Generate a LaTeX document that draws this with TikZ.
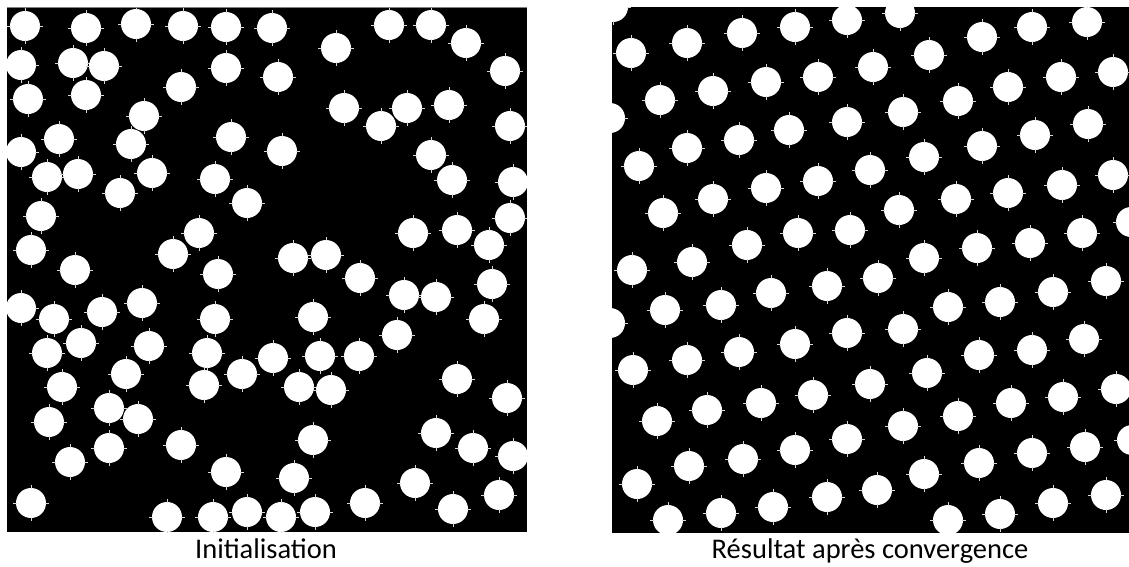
\documentclass[tikz,border=0pt]{standalone}
\usepackage{fontspec}
\setmainfont{Carlito}
\begin{document}
\begin{tikzpicture}[x=1pt,y=-1pt,
  panel/.style={fill=black},
  tickline/.style={draw=white!85!black, line width=0.9pt},
  caption/.style={font=\fontsize{28.5}{32}\selectfont, anchor=base, inner sep=0pt}]
\useasboundingbox (0,0) rectangle (1129,566);
\newcommand{\mydisk}[2]{%
  \fill[white] (#1,#2) circle[radius=15pt];
  \draw[tickline] (#1,#2) ++(0,-14) -- ++(0,-4);
  \draw[tickline] (#1,#2) ++(0,14) -- ++(0,4);
  \draw[tickline] (#1,#2) ++(-14,0) -- ++(-4,0);
  \draw[tickline] (#1,#2) ++(14,0) -- ++(4,0);}
% left panel
\fill[panel] (7,8) rectangle (527,532);
\draw[gray, line width=1pt] (7,7.5) -- (527,7.5);
\begin{scope}
\clip (7,8) rectangle (527,532);
\foreach \px/\py in {25/26,86/28,136/24,183/26,226/27,272/28,336/48,389/25,431/25,466/43,505/71,278/77,344/108,407/108,449/105,381/126,510/126,282/151,431/155,452/180,513/182,510/218,413/233,457/230,489/245,293/258,326/255,360/278,
21/65,73/63,104/66,226/68,181/87,86/95,28/99,144/116,59/139,131/144,231/137,21/152,47/177,78/174,152/173,215/179,120/193,247/203,41/216,199/233,31/250,173/254,75/270,218/274,
21/308,54/319,102/312,142/303,215/319,47/353,81/343,149/346,207/353,273/358,126/374,204/385,242/374,62/387,109/408,138/419,49/422,109/448,181/445,70/462,226/472,31/503,167/517,213/517,247/512,281/517,
492/284,404/295,436/297,484/319,313/317,397/335,320/356,359/356,299/387,331/390,457/379,507/398,313/440,436/433,473/448,513/456,294/478,415/483,499/495,365/503,315/512,453/509}
  {\mydisk{\px}{\py}}
\end{scope}
% right panel
\fill[panel] (612,7) rectangle (1129,533);
\begin{scope}
\clip (612,7) rectangle (1129,533);
\foreach \px/\py in {613/7,631/53,687/43,742/33,795/27,847/20,660/100,713/91,766/82,818/77,610/118,687/148,739/140,789/130,847/122,639/166,713/199,766/188,818/181,663/213,747/245,798/233,850/230,692/262,632/270,
900/13,982/37,1032/27,1087/22,929/55,873/67,1061/77,1113/72,1008/87,958/101,903/112,1088/124,1035/135,982/146,924/157,870/170,1113/175,1062/185,1008/193,956/199,899/210,1131/222,1082/233,1030/243,977/248,924/258,
771/293,827/286,878/278,665/310,721/305,610/323,795/344,847/333,739/352,687/360,633/370,813/395,761/403,707/410,657/421,847/439,795/450,743/459,689/466,637/484,827/497,773/507,721/513,668/520,
1106/281,1053/292,1000/302,948/307,903/329,1084/339,1032/350,979/355,927/373,870/384,1116/389,1063/397,1011/403,958/416,903/426,1132/440,1085/447,1032/453,979/463,924/474,877/490,1106/495,1053/503,1000/514,948/520}
  {\mydisk{\px}{\py}}
\end{scope}
\node[caption] (capleft) at (266,558) {Initialisation};
\node[caption] (capright) at (870,558) {Résultat après convergence};
\end{tikzpicture}
\end{document}
